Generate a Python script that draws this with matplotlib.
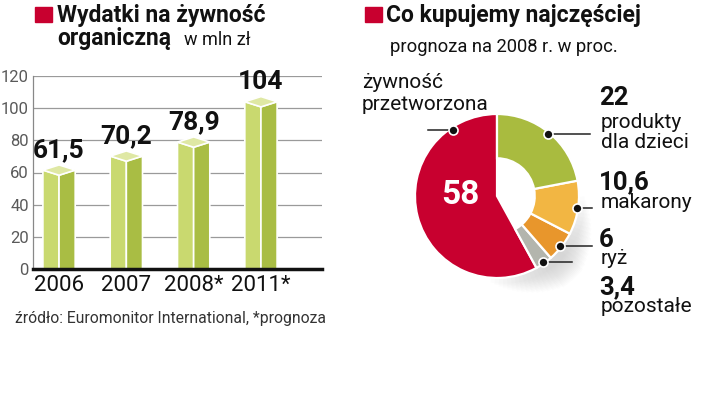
import matplotlib
matplotlib.use('Agg')
import matplotlib.pyplot as plt
import numpy as np
from matplotlib.patches import Rectangle, Wedge

plt.rcParams['font.family'] = ['Roboto', 'DejaVu Sans']

# ---- data ----
years = ['2006', '2007', '2008*', '2011*']
spending = [61.5, 70.2, 78.9, 104]
spending_labels = ['61,5', '70,2', '78,9', '104']
yticks = [0, 20, 40, 60, 80, 100, 120]

categories = ['żywność\nprzetworzona', 'produkty\ndla dzieci', 'makarony', 'ryż', 'pozostałe']
shares = [58, 22, 10.6, 6, 3.4]
share_labels = ['58', '22', '10,6', '6', '3,4']

RED = '#c8002f'
LIGHT = '#c9d96f'
DARK = '#a9bd44'
TOP = '#dfe8a4'
pie_colors = [RED, '#a9bb3f', '#f2b643', '#e8962c', '#b3b5ad']

W, H = 720, 396
fig = plt.figure(figsize=(7.2, 3.96), dpi=100)

def fx(x):
    return x / W

def fy(y):
    return 1 - y / H

# ---- bar chart ----
ax = fig.add_axes([fx(33), fy(269), (322 - 33) / W, (269 - 76) / H])
ax.set_ylim(0, 120)
ax.set_xlim(-0.387, 3.907)
xs = np.arange(len(years))
w = 0.48
d = 3.2
for xi, v in zip(xs, spending):
    ax.fill([xi - w / 2, xi - w / 2, xi, xi], [0, v, v - d, 0], color=LIGHT, ec='white', lw=1.2, zorder=3)
    ax.fill([xi, xi, xi + w / 2, xi + w / 2], [0, v - d, v, 0], color=DARK, ec='white', lw=1.2, zorder=3)
    ax.fill([xi - w / 2, xi, xi + w / 2, xi], [v, v - d, v, v + d], color=TOP, ec='white', lw=1.2, zorder=4)
for xi, v, lbl in zip(xs, spending, spending_labels):
    ax.annotate(lbl, (xi, v + d), xytext=(0, 2), textcoords='offset points',
                ha='center', va='bottom', fontsize=19, fontweight='bold', color='#111')

ax.set_yticks(yticks)
ax.set_yticklabels([str(t) for t in yticks], color='#5a5a5a', fontsize=12)
ax.yaxis.grid(True, color='#9a9a9a', lw=0.9)
ax.set_axisbelow(True)
ax.set_xticks(xs)
ax.set_xticklabels(years, fontsize=16, color='#111')
ax.tick_params(axis='both', length=0)
ax.tick_params(axis='y', pad=3)
ax.tick_params(axis='x', pad=4)
for s in ['top', 'right']:
    ax.spines[s].set_visible(False)
ax.spines['left'].set_color('#888')
ax.spines['left'].set_linewidth(0.9)
ax.spines['bottom'].set_color('#111')
ax.spines['bottom'].set_linewidth(2.5)
ax.spines['bottom'].set_zorder(5)

# ---- pie chart ----
CX, CY, R = 497, 196, 82
pax = fig.add_axes([fx(CX - 120), fy(CY + 120), 240 / W, 240 / H])
# soft shadow to the lower right
for k in range(16):
    pax.add_patch(Wedge((0.09, -0.09), 0.98 + 0.018 * k, -100 + 3 * k, 5 - 3 * k,
                        width=0.28 + 0.018 * k, color='#909090', alpha=0.022, lw=0, zorder=0))
order = [0, 4, 3, 2, 1]
vals = [shares[i] for i in order]
cols = [pie_colors[i] for i in order]
wedges, _ = pax.pie(vals, colors=cols, startangle=90, counterclock=True, radius=1,
                    wedgeprops=dict(edgecolor='white', linewidth=1.6, zorder=2))
for wdg in wedges[1:]:
    wdg.set_width(0.54)
lim = 120 / R
pax.set_xlim(-lim, lim)
pax.set_ylim(-lim, lim)
pax.set_aspect('equal')

# ---- overlay for texts and leader lines (pixel coordinates) ----
ov = fig.add_axes([0, 0, 1, 1])
ov.set_xlim(0, W)
ov.set_ylim(H, 0)
ov.axis('off')

wedge_by_cat = {order[k]: wedges[k] for k in range(len(order))}
dot_angles = {0: 124}
line_end = {0: 428, 1: 590, 2: 592, 3: 592, 4: 572}
for cat in range(len(shares)):
    wdg = wedge_by_cat[cat]
    ang = dot_angles.get(cat, (wdg.theta1 + wdg.theta2) / 2)
    r = 0.98 if cat != 0 else 0.97
    px = CX + R * r * np.cos(np.radians(ang))
    py = CY - R * r * np.sin(np.radians(ang))
    ov.plot([px, line_end[cat]], [py, py], color='#222', lw=1.1, zorder=5)
    ov.plot([px], [py], 'o', color='#111', ms=6.5, mec='white', mew=1.2, zorder=6)

ov.text(460, 195, share_labels[0], color='white', fontsize=24, fontweight='bold', ha='center', va='center')
ov.text(362, 82, 'żywność', fontsize=15, color='#111', ha='left', va='center')
ov.text(362, 104, 'przetworzona', fontsize=15, color='#111', ha='left', va='center')

label_rows = [
    (1, 98, ['produkty', 'dla dzieci'], [122, 142]),
    (2, 182, ['makarony'], [202]),
    (3, 240, ['ryż'], [259]),
    (4, 287, ['pozostałe'], [307]),
]
for cat, yv, lines, ys in label_rows:
    ov.text(599, yv, share_labels[cat], fontsize=18.5, fontweight='bold', color='#111', ha='left', va='center')
    for t, yy in zip(lines, ys):
        ov.text(601, yy, t, fontsize=15, color='#111', ha='left', va='center')

# headers
ov.add_patch(Rectangle((35, 7), 17, 15, color=RED))
ov.text(57, 22, 'Wydatki na żywność', fontsize=16.5, fontweight='bold', color='#111', va='baseline')
ov.text(57, 45, 'organiczną', fontsize=16.5, fontweight='bold', color='#111', va='baseline')
ov.text(184, 45, 'w mln zł', fontsize=13, color='#111', va='baseline')
ov.add_patch(Rectangle((365, 7), 17, 15, color=RED))
ov.text(386, 22, 'Co kupujemy najczęściej', fontsize=16.5, fontweight='bold', color='#111', va='baseline')
ov.text(390, 47, 'prognoza na 2008 r. w proc.', fontsize=13.2, color='#111', va='center')
ov.text(15, 318, 'źródło: Euromonitor International, *prognoza', fontsize=11.3, color='#333', va='center')

fig.savefig('out.png', dpi=100)
